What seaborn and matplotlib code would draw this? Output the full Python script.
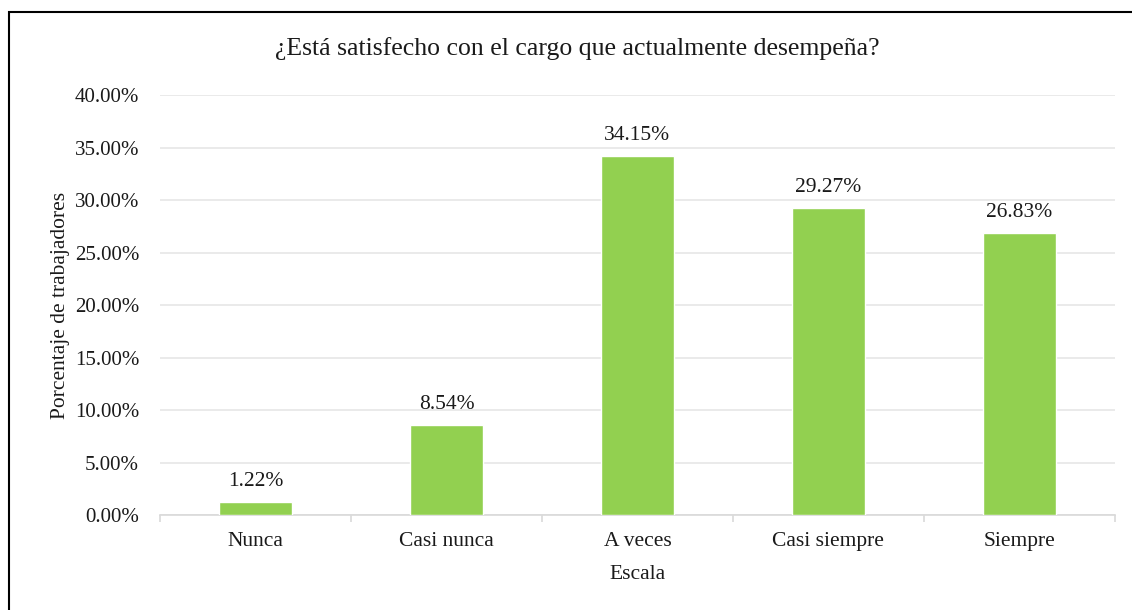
import matplotlib
matplotlib.use("Agg")
import matplotlib.pyplot as plt
import seaborn as sns
from matplotlib.ticker import FuncFormatter, MultipleLocator
from matplotlib.patches import Rectangle

categories = ["Nunca", "Casi nunca", "A veces", "Casi siempre", "Siempre"]
values = [1.22, 8.54, 34.15, 29.27, 26.83]
value_labels = ["1.22%", "8.54%", "34.15%", "29.27%", "26.83%"]

title = "¿Está satisfecho con el cargo que actualmente desempeña?"
xlabel = "Escala"
ylabel = "Porcentaje de trabajadores"

sns.set_theme(style="white")
plt.rcParams["font.family"] = ["Liberation Serif", "DejaVu Serif"]

FS = 15.5
TXT = "#1a1a1a"

fig = plt.figure(figsize=(11.32, 6.10), dpi=100)
ax = fig.add_axes([0.1413, 0.1557, 0.8436, 0.6885])

sns.barplot(x=categories, y=values, color="#92D050", width=0.38, saturation=1,
            ax=ax, zorder=3)

ax.set_ylim(0, 40)
ax.set_xlim(-0.5, len(categories) - 0.5)
ax.yaxis.set_major_locator(MultipleLocator(5))
ax.yaxis.set_major_formatter(FuncFormatter(lambda v, p: f"{v:.2f}%"))
ax.grid(axis="y", color="#E6E6E6", linewidth=1.2, zorder=0)
ax.set_axisbelow(True)

for s in ["top", "right", "left"]:
    ax.spines[s].set_visible(False)
ax.spines["bottom"].set_color("#D9D9D9")
ax.spines["bottom"].set_linewidth(1.2)

ax.tick_params(axis="y", length=0, labelsize=15, colors=TXT, pad=15)
ax.set_xticks(range(len(categories)))
ax.set_xticklabels(categories)
ax.tick_params(axis="x", which="major", length=0, labelsize=FS, colors=TXT, pad=12)
ax.set_xticks([i - 0.5 for i in range(len(categories) + 1)], minor=True)
ax.tick_params(axis="x", which="minor", bottom=True, length=5, width=1.2,
               color="#D9D9D9", direction="out")

for i, (v, lab) in enumerate(zip(values, value_labels)):
    ax.annotate(lab, (i, v), xytext=(0, 8), textcoords="offset points",
                ha="center", va="bottom", fontsize=FS, color=TXT)

ax.set_xlabel(xlabel, fontsize=FS, color=TXT, labelpad=10)
ax.set_ylabel(ylabel, fontsize=FS, color=TXT, labelpad=3)
fig.text(577 / 1132, 1 - 49 / 610, title, ha="center", va="center",
         fontsize=18.5, color=TXT)

fig.patches.append(Rectangle((9 / 1132, -0.01), 1.05, 1 - 12 / 610 + 0.01,
                             transform=fig.transFigure, fill=False,
                             edgecolor="black", linewidth=1.5))

fig.savefig("out.png", dpi=100)
